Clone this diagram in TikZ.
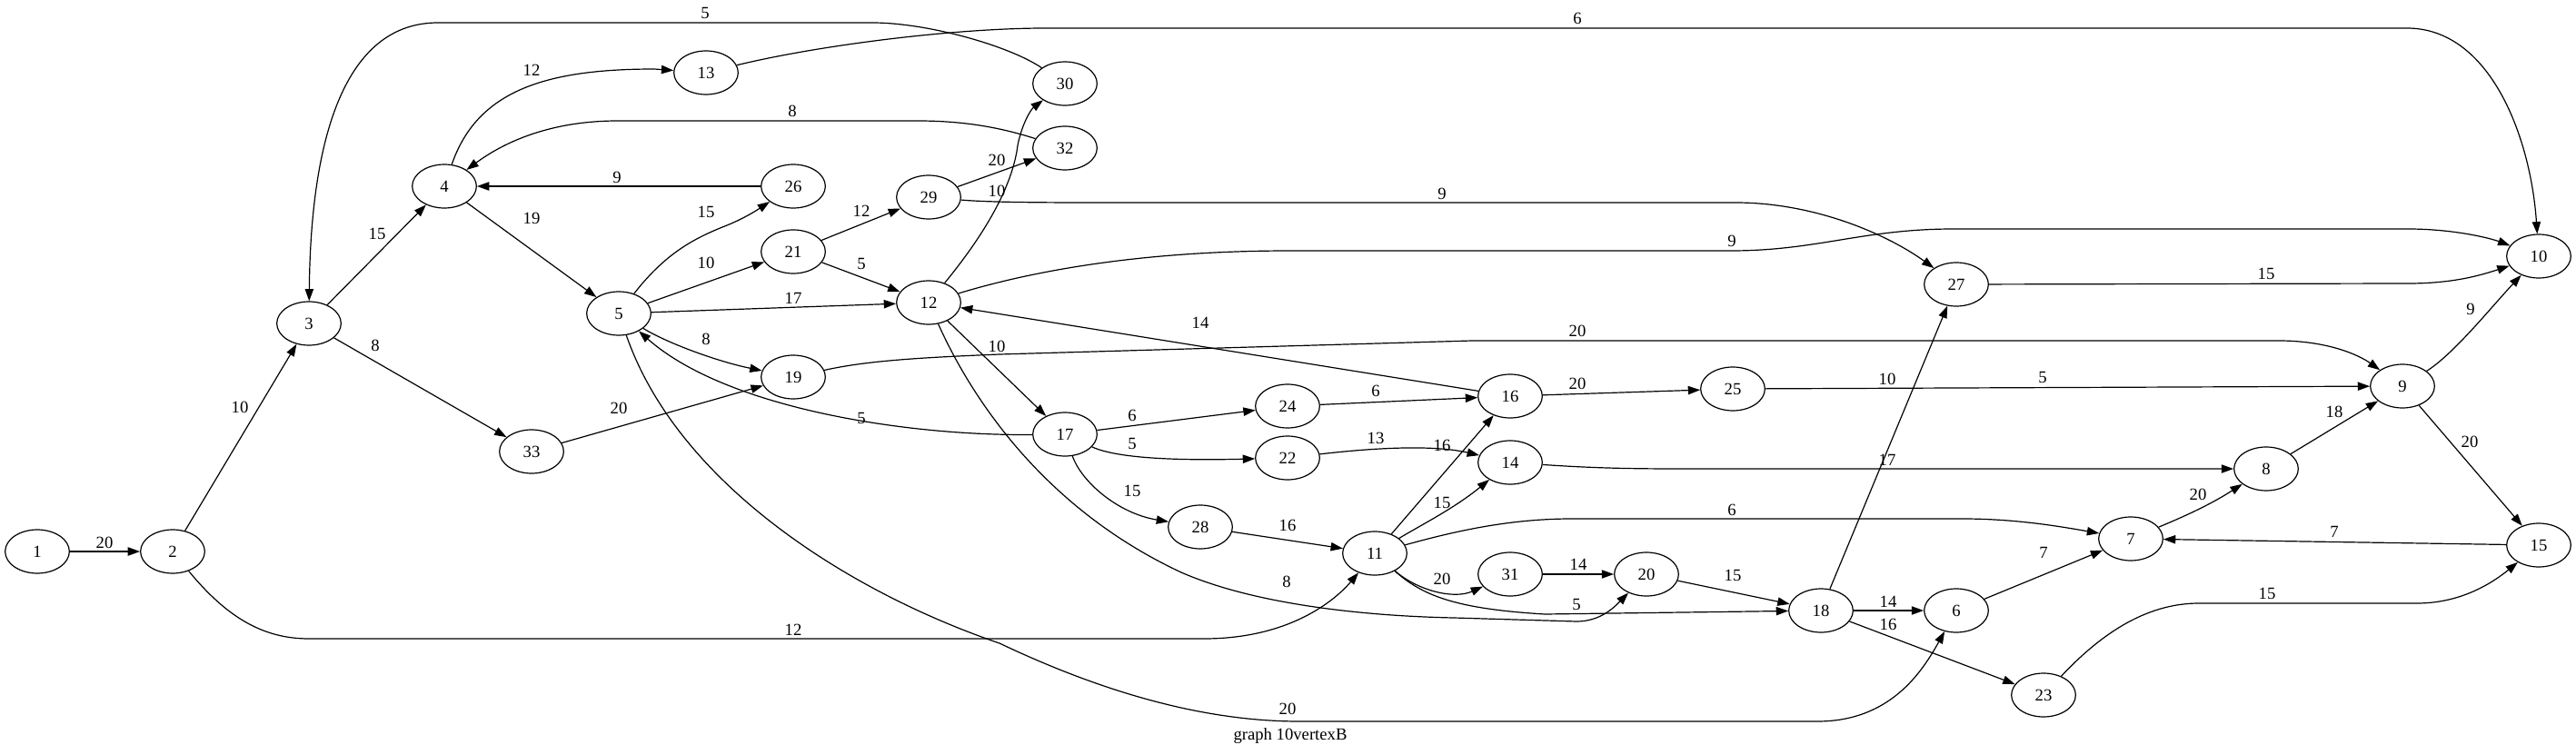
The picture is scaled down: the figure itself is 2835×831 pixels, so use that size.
\documentclass[tikz,border=0pt]{standalone}
\usepackage{fontspec}
\setmainfont{Liberation Serif}
\usetikzlibrary{shapes.geometric,arrows.meta}

\begin{document}
\begin{tikzpicture}[
    x=0.75pt, y=-0.75pt,
    vtx/.style={draw, ellipse, line width=0.9pt, minimum width=53pt, minimum height=36pt, inner sep=0pt, font=\fontsize{14}{16}\selectfont},
    arr/.style={-{Triangle[length=10pt, width=7pt]}, line width=0.9pt},
    lbl/.style={font=\fontsize{14}{16}\selectfont, inner sep=0pt}
]
\useasboundingbox (0,0) rectangle (2835,831);

% vertices
\node[vtx] (v1) at (41,607) {1};
\node[vtx] (v2) at (190,607) {2};
\node[vtx] (v3) at (340,356) {3};
\node[vtx] (v4) at (489,205) {4};
\node[vtx] (v5) at (681,345) {5};
\node[vtx] (v33) at (585,497) {33};
\node[vtx] (v13) at (777,80) {13};
\node[vtx] (v30) at (1172,92) {30};
\node[vtx] (v32) at (1172,163) {32};
\node[vtx] (v26) at (873,205) {26};
\node[vtx] (v29) at (1022,217) {29};
\node[vtx] (v21) at (873,277) {21};
\node[vtx] (v12) at (1022,333) {12};
\node[vtx] (v19) at (873,415) {19};
\node[vtx] (v17) at (1172,478) {17};
\node[vtx] (v28) at (1321,580) {28};
\node[vtx] (v24) at (1417,447) {24};
\node[vtx] (v22) at (1417,504) {22};
\node[vtx] (v16) at (1662,436) {16};
\node[vtx] (v14) at (1662,509) {14};
\node[vtx] (v25) at (1907,428) {25};
\node[vtx] (v11) at (1513,609) {11};
\node[vtx] (v31) at (1662,632) {31};
\node[vtx] (v20) at (1812,632) {20};
\node[vtx] (v18) at (2004,672) {18};
\node[vtx] (v10) at (2794,282) {10};
\node[vtx] (v27) at (2153,313) {27};
\node[vtx] (v9) at (2644,425) {9};
\node[vtx] (v8) at (2494,516) {8};
\node[vtx] (v7) at (2345,593) {7};
\node[vtx] (v15) at (2794,600) {15};
\node[vtx] (v6) at (2153,672) {6};
\node[vtx] (v23) at (2249,765) {23};

% edges
\draw[arr] (v1) -- (v2) node[lbl] at (115,597) {20};
\draw[arr] (v2) -- (v3) node[lbl] at (264,448) {10};
\draw[arr] (v2) .. controls (250,680) and (290,703) .. (340,703) -- (1325,703) .. controls (1420,703) and (1470,660) .. (v11) node[lbl] at (873,693) {12};
\draw[arr] (v3) -- (v4) node[lbl] at (415,257) {15};
\draw[arr] (v3) -- (v33) node[lbl] at (413,380) {8};
\draw[arr] (v30) .. controls (1110,50) and (1020,25) .. (960,25) -- (482,25) .. controls (380,25) and (342,150) .. (v3) node[lbl] at (776,14) {5};
\draw[arr] (v4) .. controls (525,100) and (600,76) .. (720,76) -- (v13) node[lbl] at (585,77) {12};
\draw[arr] (v32) .. controls (1100,140) and (1060,133) .. (1010,133) -- (680,133) .. controls (600,133) and (550,160) .. (v4) node[lbl] at (872,122) {8};
\draw[arr] (v26) -- (v4) node[lbl] at (679,195) {9};
\draw[arr] (v4) -- (v5) node[lbl] at (585,240) {19};
\draw[arr] (v5) .. controls (735,275) and (770,260) .. (800,248) .. controls (820,240) and (835,230) .. (v26) node[lbl] at (777,233) {15};
\draw[arr] (v5) -- (v21) node[lbl] at (777,289) {10};
\draw[arr] (v5) -- (v12) node[lbl] at (873,328) {17};
\draw[arr] (v5) .. controls (735,378) and (790,398) .. (v19) node[lbl] at (777,373) {8};
\draw[arr] (v5) .. controls (745,530) and (930,650) .. (1100,708) .. controls (1220,765) and (1330,794) .. (1430,794) -- (2000,794) .. controls (2080,794) and (2115,740) .. (v6) node[lbl] at (1417,780) {20};
\draw[arr] (v17) .. controls (1000,480) and (800,450) .. (v5) node[lbl] at (948,460) {5};
\draw[arr] (v33) -- (v19) node[lbl] at (681,449) {20};
\draw[arr] (v13) .. controls (900,50) and (1050,31) .. (1150,31) -- (2649,31) .. controls (2740,31) and (2785,150) .. (v10) node[lbl] at (1736,20) {6};
\draw[arr] (v12) .. controls (1090,250) and (1115,200) .. (1120,160) .. controls (1125,135) and (1135,120) .. (v30) node[lbl] at (1097,210) {10};
\draw[arr] (v29) -- (v32) node[lbl] at (1097,176) {20};
\draw[arr] (v29) .. controls (1080,222) and (1120,223) .. (1200,223) -- (1910,223) .. controls (2000,223) and (2080,260) .. (v27) node[lbl] at (1587,213) {9};
\draw[arr] (v21) -- (v29) node[lbl] at (948,232) {12};
\draw[arr] (v21) -- (v12) node[lbl] at (948,290) {5};
\draw[arr] (v12) .. controls (1130,300) and (1250,276) .. (1420,276) -- (1905,276) .. controls (2000,276) and (2050,252) .. (2150,252) -- (2650,252) .. controls (2700,252) and (2740,262) .. (v10) node[lbl] at (1906,265) {9};
\draw[arr] (v16) -- (v12) node[lbl] at (1321,355) {14};
\draw[arr] (v12) -- (v17) node[lbl] at (1097,381) {10};
\draw[arr] (v12) .. controls (1070,440) and (1150,560) .. (1300,630) .. controls (1380,665) and (1500,678) .. (1600,680) -- (1735,684) .. controls (1760,684) and (1775,670) .. (v20) node[lbl] at (1416,640) {8};
\draw[arr] (v19) .. controls (950,398) and (1000,394) .. (1100,390) -- (1620,375) -- (2508,375) .. controls (2560,375) and (2595,390) .. (v9) node[lbl] at (1736,364) {20};
\draw[arr] (v27) -- (2650,312) .. controls (2700,312) and (2730,303) .. (v10) node[lbl] at (2494,301) {15};
\draw[arr] (v17) -- (v24) node[lbl] at (1246,457) {6};
\draw[arr] (v17) .. controls (1230,505) and (1300,507) .. (v22) node[lbl] at (1246,488) {5};
\draw[arr] (v17) .. controls (1190,530) and (1230,565) .. (v28) node[lbl] at (1246,540) {15};
\draw[arr] (v24) -- (v16) node[lbl] at (1514,430) {6};
\draw[arr] (v22) .. controls (1520,492) and (1580,490) .. (v14) node[lbl] at (1514,482) {13};
\draw[arr] (v28) -- (v11) node[lbl] at (1417,578) {16};
\draw[arr] (v11) -- (v16) node[lbl] at (1587,490) {16};
\draw[arr] (v11) .. controls (1560,580) and (1600,560) .. (v14) node[lbl] at (1587,553) {15};
\draw[arr] (v11) .. controls (1600,585) and (1660,571) .. (1730,571) -- (2160,571) .. controls (2220,571) and (2270,580) .. (v7) node[lbl] at (1906,561) {6};
\draw[arr] (v11) .. controls (1560,650) and (1600,660) .. (v31) node[lbl] at (1587,637) {20};
\draw[arr] (v11) .. controls (1565,655) and (1600,670) .. (1700,676) -- (v18) node[lbl] at (1735,665) {5};
\draw[arr] (v31) -- (v20) node[lbl] at (1737,621) {14};
\draw[arr] (v20) -- (v18) node[lbl] at (1907,633) {15};
\draw[arr] (v16) -- (v25) node[lbl] at (1736,422) {20};
\draw[arr] (v25) -- (v9) node[lbl] at (2248,415) {5};
\draw[arr] (v14) .. controls (1750,515) and (1790,516) .. (1850,516) -- (v8) node[lbl] at (2077,506) {17};
\draw[arr] (v18) -- (v27) node[lbl] at (2077,417) {10};
\draw[arr] (v18) -- (v6) node[lbl] at (2078,662) {14};
\draw[arr] (v18) -- (v23) node[lbl] at (2078,687) {16};
\draw[arr] (v6) -- (v7) node[lbl] at (2249,608) {7};
\draw[arr] (v7) .. controls (2400,570) and (2430,557) .. (v8) node[lbl] at (2419,544) {20};
\draw[arr] (v8) -- (v9) node[lbl] at (2569,453) {18};
\draw[arr] (v9) .. controls (2700,390) and (2740,340) .. (v10) node[lbl] at (2719,340) {9};
\draw[arr] (v9) -- (v15) node[lbl] at (2718,486) {20};
\draw[arr] (v15) -- (v7) node[lbl] at (2569,585) {7};
\draw[arr] (v23) .. controls (2310,700) and (2360,664) .. (2420,664) -- (2660,664) .. controls (2710,664) and (2745,640) .. (v15) node[lbl] at (2495,653) {15};

\node[lbl] (caption) at (1420,810) {graph 10vertexB};
\end{tikzpicture}
\end{document}
